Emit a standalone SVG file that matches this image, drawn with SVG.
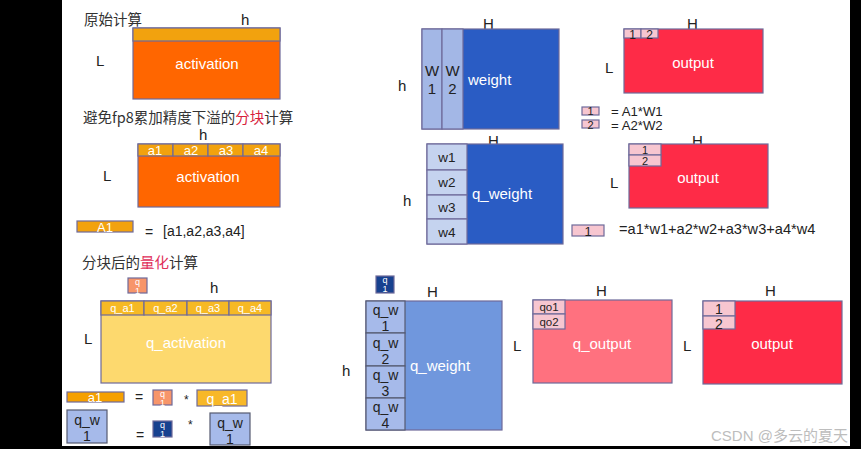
<svg xmlns="http://www.w3.org/2000/svg" width="861" height="449" viewBox="0 0 861 449">
<style>
.t{font-family:"Liberation Sans",Arial,sans-serif;fill:#222;}
.cn{font-family:"Noto Sans CJK SC","Noto Sans",sans-serif;fill:#333;font-size:14.5px;}
.w{font-family:"Liberation Sans",Arial,sans-serif;fill:#fff;}
.lbl{font-size:15px;}
.mid{text-anchor:middle;}
.b{stroke:#6e6a9a;stroke-width:1.2;}
.g{stroke:#555a70;stroke-width:1.2;}
.red{fill:#d81e3c;}
</style>
<rect x="0" y="0" width="861" height="449" fill="#fff"/>
<rect x="0" y="0" width="62" height="449" fill="#000"/>
<rect x="850" y="0" width="11" height="449" fill="#000"/>
<rect x="0" y="446" width="861" height="3" fill="#000"/>
<g id="connectors"/>

<g id="sec1">
<text class="cn" x="84" y="25">原始计算</text>
<text class="t lbl" x="241" y="25">h</text>
<text class="t lbl" x="96" y="66">L</text>
<rect class="b" x="133" y="28" width="147" height="71" fill="#ff6600"/>
<rect class="b" x="133" y="28" width="147" height="13" fill="#f2a20e"/>
<text class="w lbl mid" x="207" y="69">activation</text>
</g>

<g id="sec2">
<text class="cn" x="83" y="123">避免fp8累加精度下溢的<tspan class="red">分块</tspan>计算</text>
<text class="t lbl" x="199" y="140">h</text>
<text class="t lbl" x="103" y="181">L</text>
<rect class="b" x="138" y="144" width="142" height="63" fill="#ff6600"/>
<rect class="b" x="138" y="144" width="35" height="12" fill="#f2a20e"/>
<rect class="b" x="173" y="144" width="35" height="12" fill="#f2a20e"/>
<rect class="b" x="208" y="144" width="35" height="12" fill="#f2a20e"/>
<rect class="b" x="243" y="144" width="37" height="12" fill="#f2a20e"/>
<text class="w mid" x="155" y="155" font-size="13">a1</text>
<text class="w mid" x="191" y="155" font-size="13">a2</text>
<text class="w mid" x="226" y="155" font-size="13">a3</text>
<text class="w mid" x="261" y="155" font-size="13">a4</text>
<text class="w lbl mid" x="208" y="182">activation</text>
<rect class="b" x="77" y="221" width="56" height="11" fill="#f2a20e"/>
<text class="w mid" x="105" y="232" font-size="13">A1</text>
<text class="t" x="145" y="237" font-size="14">=</text>
<text class="t" x="163" y="236" font-size="14">[a1,a2,a3,a4]</text>
</g>

<g id="sec3">
<text class="cn" x="82" y="268">分块后的<tspan fill="#e0305a">量化</tspan>计算</text>
<rect class="b" x="128" y="278" width="19" height="15" fill="#f7956a"/>
<text class="w mid" x="137.5" y="285" font-size="9">q</text>
<text class="w mid" x="137.5" y="294" font-size="9">1</text>
<text class="t lbl" x="210" y="293">h</text>
<text class="t lbl" x="84" y="344">L</text>
<rect class="b" x="101" y="301" width="170" height="82" fill="#fdd96e"/>
<rect class="b" x="101" y="301" width="43" height="14" fill="#f6b924"/>
<rect class="b" x="144" y="301" width="43" height="14" fill="#f6b924"/>
<rect class="b" x="187" y="301" width="42" height="14" fill="#f6b924"/>
<rect class="b" x="229" y="301" width="42" height="14" fill="#f6b924"/>
<text class="w mid" x="122.5" y="312" font-size="11">q_a1</text>
<text class="w mid" x="165.5" y="312" font-size="11">q_a2</text>
<text class="w mid" x="208" y="312" font-size="11">q_a3</text>
<text class="w mid" x="250" y="312" font-size="11">q_a4</text>
<text class="w lbl mid" x="186" y="348">q_activation</text>
</g>

<g id="eq-a1">
<rect class="b" x="67" y="392" width="57" height="10" fill="#f5a000"/>
<text class="w mid" x="95" y="402" font-size="13">a1</text>
<text class="t" x="135" y="402" font-size="14">=</text>
<rect class="b" x="153" y="390" width="19" height="15" fill="#f7956a"/>
<text class="w mid" x="162.5" y="397" font-size="9">q</text>
<text class="w mid" x="162.5" y="406" font-size="9">1</text>
<text class="t" x="184" y="404" font-size="12">*</text>
<rect class="b" x="197" y="390" width="50" height="16" fill="#f8b828"/>
<text class="w mid" x="222" y="404" font-size="14">q_a1</text>
</g>

<g id="eq-qw1">
<rect class="g" x="67" y="410" width="40" height="33" fill="#a6baea"/>
<text class="t mid" x="87" y="425" font-size="14">q_w</text>
<text class="t mid" x="87" y="441" font-size="14">1</text>
<text class="t" x="136" y="440" font-size="14">=</text>
<rect class="b" x="153" y="421" width="19" height="16" fill="#17418f"/>
<text class="w mid" x="162.5" y="428" font-size="9">q</text>
<text class="w mid" x="162.5" y="437" font-size="9">1</text>
<text class="t" x="188" y="429" font-size="12">*</text>
<rect class="g" x="210" y="413" width="40" height="32" fill="#a6baea"/>
<text class="t mid" x="230" y="428" font-size="14">q_w</text>
<text class="t mid" x="230" y="444" font-size="14">1</text>
</g>

<g id="weight">
<text class="t lbl" x="483" y="29">H</text>
<text class="t lbl" x="398" y="91">h</text>
<rect class="b" x="422" y="29" width="137" height="100" fill="#2a5cc4"/>
<rect class="b" x="422" y="29" width="20" height="100" fill="#a3b7e6"/>
<rect class="b" x="442" y="29" width="21" height="100" fill="#a3b7e6"/>
<text class="t lbl mid" x="432" y="76">W</text>
<text class="t lbl mid" x="432" y="94">1</text>
<text class="t lbl mid" x="452.5" y="76">W</text>
<text class="t lbl mid" x="452.5" y="94">2</text>
<text class="w lbl" x="468" y="85">weight</text>
</g>

<g id="output1">
<text class="t lbl" x="687" y="29">H</text>
<text class="t lbl" x="605" y="73">L</text>
<rect class="b" x="624" y="29" width="139" height="64" fill="#fe2b47"/>
<rect class="b" x="624" y="29" width="17" height="9" fill="#f7c6d0"/>
<rect class="b" x="641" y="29" width="17" height="9" fill="#f7c6d0"/>
<text class="t mid" x="632.5" y="39" font-size="12">1</text>
<text class="t mid" x="649.5" y="39" font-size="12">2</text>
<text class="w lbl mid" x="693" y="68">output</text>
<rect class="b" x="582" y="107" width="17" height="8" fill="#f7c6d0"/>
<text class="t mid" x="590.5" y="115" font-size="11">1</text>
<text class="t" x="611" y="116" font-size="13.2">= A1*W1</text>
<rect class="b" x="582" y="120" width="17" height="8" fill="#f7c6d0"/>
<text class="t mid" x="590.5" y="128.5" font-size="11">2</text>
<text class="t" x="611" y="130" font-size="13.2">= A2*W2</text>
</g>

<g id="qweight1">
<text class="t lbl" x="488" y="146">H</text>
<text class="t lbl" x="403" y="206">h</text>
<rect class="b" x="427" y="144" width="136" height="100" fill="#2a5cc4"/>
<rect class="b" x="427" y="144" width="40" height="26" fill="#c5d3ef"/>
<rect class="b" x="427" y="170" width="40" height="25" fill="#c5d3ef"/>
<rect class="b" x="427" y="195" width="40" height="24" fill="#c5d3ef"/>
<rect class="b" x="427" y="219" width="40" height="25" fill="#c5d3ef"/>
<text class="t mid" x="447" y="162" font-size="13.5">w1</text>
<text class="t mid" x="447" y="187" font-size="13.5">w2</text>
<text class="t mid" x="447" y="212" font-size="13.5">w3</text>
<text class="t mid" x="447" y="237" font-size="13.5">w4</text>
<text class="w lbl" x="472" y="199">q_weight</text>
</g>

<g id="output2">
<text class="t lbl" x="692" y="146">H</text>
<text class="t lbl" x="610" y="188">L</text>
<rect class="b" x="629" y="144" width="139" height="64" fill="#fe2b47"/>
<rect class="b" x="629" y="144" width="32" height="11" fill="#f7c6d0"/>
<rect class="b" x="629" y="155" width="32" height="11" fill="#f7c6d0"/>
<text class="t mid" x="645" y="153.5" font-size="11">1</text>
<text class="t mid" x="645" y="165" font-size="11">2</text>
<text class="w lbl mid" x="698" y="183">output</text>
<rect class="b" x="572" y="225" width="32" height="11" fill="#f7c6d0"/>
<text class="t mid" x="588" y="236" font-size="13">1</text>
<text class="t" x="619" y="234" font-size="14.6">=a1*w1+a2*w2+a3*w3+a4*w4</text>
</g>

<g id="qweight2">
<rect class="b" x="376" y="276" width="18" height="17" fill="#17418f"/>
<text class="w mid" x="385" y="283" font-size="9">q</text>
<text class="w mid" x="385" y="292" font-size="9">1</text>
<text class="t lbl" x="427" y="297">H</text>
<text class="t lbl" x="342" y="376">h</text>
<rect class="b" x="366" y="301" width="136" height="129" fill="#7097dd"/>
<rect class="g" x="366" y="301" width="39" height="32" fill="#a6baea"/>
<rect class="g" x="366" y="333" width="39" height="33" fill="#a6baea"/>
<rect class="g" x="366" y="366" width="39" height="32" fill="#a6baea"/>
<rect class="g" x="366" y="398" width="39" height="32" fill="#a6baea"/>
<text class="t mid" x="385.5" y="315" font-size="14">q_w</text>
<text class="t mid" x="385.5" y="331" font-size="14">1</text>
<text class="t mid" x="385.5" y="348" font-size="14">q_w</text>
<text class="t mid" x="385.5" y="364" font-size="14">2</text>
<text class="t mid" x="385.5" y="380" font-size="14">q_w</text>
<text class="t mid" x="385.5" y="396" font-size="14">3</text>
<text class="t mid" x="385.5" y="412" font-size="14">q_w</text>
<text class="t mid" x="385.5" y="428" font-size="14">4</text>
<text class="w lbl" x="410" y="371">q_weight</text>
</g>

<g id="qoutput">
<text class="t lbl" x="596" y="296">H</text>
<text class="t lbl" x="513" y="351">L</text>
<rect class="b" x="533" y="300" width="139" height="83" fill="#ff717f"/>
<rect class="b" x="533" y="300" width="32" height="14" fill="#f7c6d0"/>
<rect class="b" x="533" y="314" width="32" height="15" fill="#f7c6d0"/>
<text class="t mid" x="549" y="311" font-size="11.5">qo1</text>
<text class="t mid" x="549" y="326" font-size="11.5">qo2</text>
<text class="w lbl mid" x="602" y="349">q_output</text>
</g>

<g id="output3">
<text class="t lbl" x="765" y="296">H</text>
<text class="t lbl" x="683" y="351">L</text>
<rect class="b" x="703" y="301" width="139" height="83" fill="#fe2b47"/>
<rect class="b" x="703" y="301" width="32" height="15" fill="#f7c6d0"/>
<rect class="b" x="703" y="316" width="32" height="13" fill="#f7c6d0"/>
<text class="t mid" x="719" y="314" font-size="14">1</text>
<text class="t mid" x="719" y="329" font-size="14">2</text>
<text class="w lbl mid" x="772" y="349">output</text>
</g>

<text x="711" y="441" font-family="'Liberation Sans','Noto Sans CJK SC',sans-serif" font-size="15" fill="#bdbdbd">CSDN @多云的夏天</text>
</svg>
